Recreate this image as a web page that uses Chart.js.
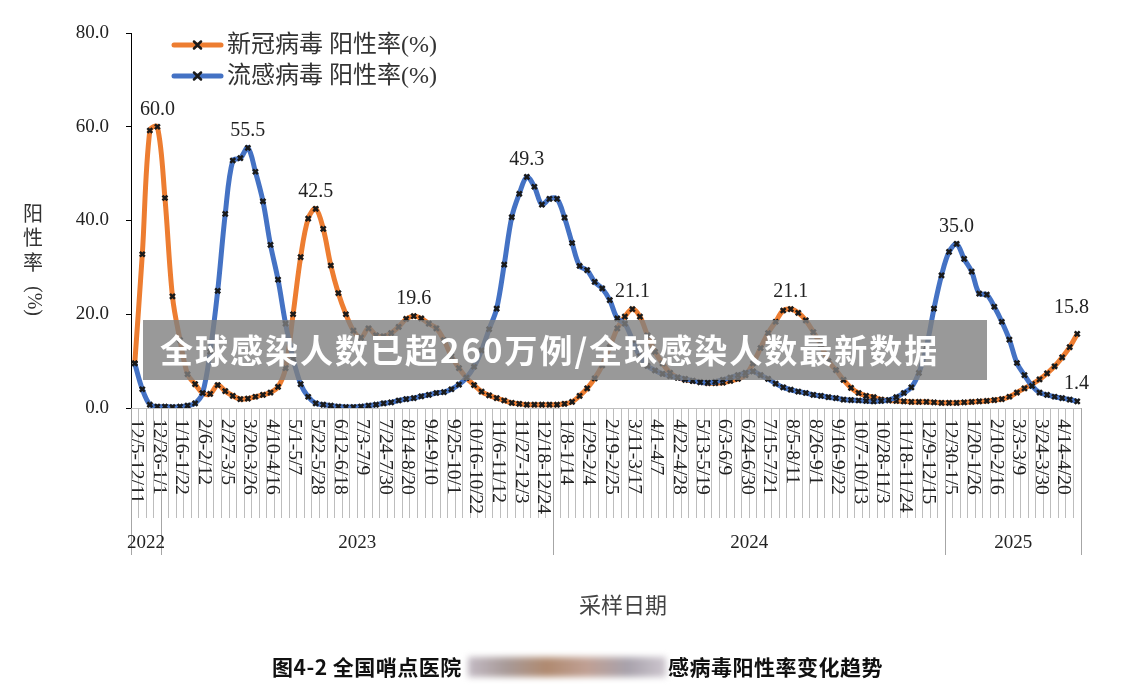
<!DOCTYPE html>
<html>
<head>
<meta charset="utf-8">
<script src="https://cdn.jsdelivr.net/npm/chart.js@4.4.1/dist/chart.umd.min.js"></script>
<style>
  html, body { margin: 0; padding: 0; background: #fff; }
  #chart { display: block; }
</style>
</head>
<body>
<canvas id="chart" width="1132" height="700"></canvas>
<script>
// weekly sampling periods, one label every third week
var tickLabels = [
    "12/5-12/11", "12/26-1/1", "1/16-1/22", "2/6-2/12", "2/27-3/5", "3/20-3/26",
    "4/10-4/16", "5/1-5/7", "5/22-5/28", "6/12-6/18", "7/3-7/9", "7/24-7/30",
    "8/14-8/20", "9/4-9/10", "9/25-10/1", "10/16-10/22", "11/6-11/12", "11/27-12/3",
    "12/18-12/24", "1/8-1/14", "1/29-2/4", "2/19-2/25", "3/11-3/17", "4/1-4/7",
    "4/22-4/28", "5/13-5/19", "6/3-6/9", "6/24-6/30", "7/15-7/21", "8/5-8/11",
    "8/26-9/1", "9/16-9/22", "10/7-10/13", "10/28-11/3", "11/18-11/24", "12/9-12/15",
    "12/30-1/5", "1/20-1/26", "2/10-2/16", "3/3-3/9", "3/24-3/30", "4/14-4/20"
];

// year groups under the axis: name and index of first week
var years = ["2022", "2023", "2024", "2025"];
var yearStarts = [0, 4, 56, 108];

// 新冠病毒 阳性率(%)
var covidRate = [
    9.5, 32.8, 59.2, 60.0, 44.8, 23.8, 14.5, 7.2, 5.1, 3.2,
    3.0, 4.9, 3.6, 2.6, 1.9, 2.0, 2.4, 2.8, 3.3, 4.5,
    8.5, 20.0, 32.2, 40.4, 42.5, 38.2, 30.4, 24.5, 20.0, 16.5,
    15.0, 17.0, 15.5, 15.3, 16.0, 17.3, 19.0, 19.6, 19.1, 18.0,
    17.0, 14.5, 11.0, 8.5, 6.4, 4.9, 3.5, 2.7, 2.1, 1.6,
    1.1, 0.9, 0.7, 0.7, 0.7, 0.7, 0.7, 0.9, 1.3, 2.6,
    4.2, 6.3, 9.1, 13.0, 17.0, 19.5, 21.1, 19.5, 15.5, 12.0,
    9.5, 7.5, 6.5, 6.0, 5.8, 5.5, 5.3, 5.3, 5.4, 5.8,
    6.2, 7.0, 9.5, 12.8, 16.0, 18.4, 20.8, 21.1, 20.3, 18.7,
    16.2, 13.5, 10.0, 8.1, 6.0, 4.3, 3.2, 2.6, 2.3, 1.8,
    1.6, 1.5, 1.4, 1.3, 1.3, 1.3, 1.2, 1.1, 1.1, 1.1,
    1.2, 1.3, 1.4, 1.5, 1.7, 1.9, 2.4, 3.3, 4.2, 5.1,
    6.1, 7.4, 8.9, 10.8, 13.0, 15.8
];

// 流感病毒 阳性率(%)
var fluRate = [
    9.5, 4.0, 0.7, 0.3, 0.3, 0.2, 0.3, 0.5, 1.0, 3.2,
    12.0, 25.0, 41.4, 52.8, 53.3, 55.5, 50.4, 44.1, 34.8, 27.4,
    18.0, 10.5, 5.1, 2.4, 1.0, 0.7, 0.5, 0.3, 0.2, 0.2,
    0.3, 0.5, 0.7, 1.0, 1.2, 1.6, 1.9, 2.1, 2.5, 2.8,
    3.2, 3.4, 4.0, 5.0, 6.5, 8.8, 12.3, 16.8, 21.2, 30.6,
    40.7, 45.7, 49.3, 47.2, 43.4, 44.6, 44.6, 40.6, 35.2, 30.3,
    29.4, 26.9, 25.5, 23.0, 19.1, 18.0, 14.5, 11.0, 9.0, 8.0,
    7.3, 6.8, 6.5, 6.2, 5.8, 5.5, 5.4, 5.6, 6.0, 6.5,
    7.0, 7.5, 7.8, 7.0, 6.2, 5.2, 4.4, 3.9, 3.5, 3.2,
    2.8, 2.6, 2.3, 2.1, 1.8, 1.7, 1.6, 1.5, 1.4, 1.5,
    1.7, 2.3, 3.2, 4.4, 7.5, 13.0, 21.2, 28.3, 33.3, 35.0,
    31.8, 29.1, 24.4, 24.2, 21.6, 18.4, 14.6, 9.6, 7.0, 4.7,
    3.3, 2.8, 2.4, 2.1, 1.8, 1.4
];

// weeks whose values are printed above the curve
var covidPeaks = [3, 24, 37, 66, 87, 125];
var fluPeaks = [15, 52, 109, 125];

var yTicks = [0, 20, 40, 60, 80];

var ORANGE = "#ED7D31";
var BLUE = "#4472C4";
var SERIF = "'Liberation Serif', 'Noto Sans CJK SC', serif";
var CJK = "'Noto Sans CJK SC', sans-serif";

// one category per week, text only every third week
var weeks = covidRate.map(function (v, i) {
    return i % 3 === 0 && tickLabels[i / 3] ? tickLabels[i / 3] : "";
});

function drawCross(ctx, x, y, r) {
    ctx.save();
    ctx.strokeStyle = "#1a1a1a";
    ctx.lineWidth = 2.5;
    ctx.beginPath();
    ctx.moveTo(x - r, y - r); ctx.lineTo(x + r, y + r);
    ctx.moveTo(x + r, y - r); ctx.lineTo(x - r, y + r);
    ctx.stroke();
    ctx.restore();
}

// everything Excel draws around the plot: rotated week labels, year groups,
// value labels, legend, titles, caption and the overlay banner
var decorPlugin = {
    id: "decor",
    afterDraw: function (chart) {
        var ctx = chart.ctx;
        var xs = chart.scales.x;
        var ys = chart.scales.y;
        var area = chart.chartArea;
        var step = xs.getPixelForValue(1) - xs.getPixelForValue(0);

        ctx.save();

        // week labels, rotated clockwise
        ctx.fillStyle = "#222";
        ctx.font = "18px " + SERIF;
        ctx.textAlign = "left";
        ctx.textBaseline = "middle";
        weeks.forEach(function (lab, i) {
            if (!lab) return;
            ctx.save();
            ctx.translate(xs.getPixelForValue(i) + 1, area.bottom + 11);
            ctx.rotate(Math.PI / 2);
            ctx.scale(1.08, 1);
            ctx.fillText(lab, 0, 0);
            ctx.restore();
        });

        // year separators and names
        var bounds = yearStarts.concat([weeks.length]).map(function (k) {
            return xs.getPixelForValue(k) - step / 2;
        });
        ctx.strokeStyle = "#a6a6a6";
        ctx.lineWidth = 1;
        bounds.forEach(function (bx) {
            ctx.beginPath();
            ctx.moveTo(Math.round(bx) + 0.5, area.bottom);
            ctx.lineTo(Math.round(bx) + 0.5, area.bottom + 147);
            ctx.stroke();
        });
        ctx.fillStyle = "#222";
        ctx.font = "19px " + SERIF;
        ctx.textAlign = "center";
        ctx.textBaseline = "middle";
        years.forEach(function (y, i) {
            ctx.fillText(y, (bounds[i] + bounds[i + 1]) / 2, area.bottom + 135);
        });

        // value labels
        ctx.font = "20px " + SERIF;
        ctx.textBaseline = "alphabetic";
        function label(series, idx, extra) {
            var px = xs.getPixelForValue(idx);
            var py = ys.getPixelForValue(series[idx]);
            var txt = series[idx].toFixed(1);
            var w = ctx.measureText(txt).width;
            var cx = Math.min(px, 1089 - w / 2);
            ctx.fillText(txt, cx, py - 12 - (extra || 0));
        }
        covidPeaks.forEach(function (i) {
            label(covidRate, i, i === covidRate.length - 1 ? 9 : 0);
        });
        fluPeaks.forEach(function (i) { label(fluRate, i, 0); });

        // legend
        [[ORANGE, "新冠病毒 阳性率(%)", 45], [BLUE, "流感病毒 阳性率(%)", 76]].forEach(function (it) {
            ctx.strokeStyle = it[0];
            ctx.lineWidth = 5;
            ctx.lineCap = "round";
            ctx.beginPath();
            ctx.moveTo(174, it[2]);
            ctx.lineTo(221, it[2]);
            ctx.stroke();
            drawCross(ctx, 197.5, it[2], 3.5);
            ctx.fillStyle = "#333";
            ctx.font = "24px " + SERIF;
            ctx.textAlign = "left";
            ctx.textBaseline = "middle";
            ctx.fillText(it[1], 227, it[2] + 1);
        });

        // y title, stacked characters
        ctx.fillStyle = "#333";
        ctx.font = "20px " + CJK;
        ctx.textAlign = "center";
        ctx.textBaseline = "middle";
        ["阳", "性", "率"].forEach(function (c, i) {
            ctx.fillText(c, 33, 213 + i * 24.5);
        });
        ctx.save();
        ctx.translate(33, 301);
        ctx.rotate(Math.PI / 2);
        ctx.font = "20px " + SERIF;
        ctx.fillText("(%)", 0, 0);
        ctx.restore();

        // x title
        ctx.fillStyle = "#444";
        ctx.font = "22px " + CJK;
        ctx.fillText("采样日期", 623, 605);

        // caption with the blurred middle part
        ctx.fillStyle = "#111";
        ctx.font = "bold 21px " + CJK;
        ctx.letterSpacing = "0.5px";
        ctx.textAlign = "left";
        ctx.fillText("图4-2 全国哨点医院", 272, 667);
        ctx.save();
        ctx.filter = "blur(3px)";
        var g = ctx.createLinearGradient(466, 0, 668, 0);
        g.addColorStop(0, "#c4bcc6");
        g.addColorStop(0.2, "#a89a98");
        g.addColorStop(0.4, "#b08a70");
        g.addColorStop(0.6, "#c0a094");
        g.addColorStop(0.8, "#a8a2ac");
        g.addColorStop(1, "#cfc8d0");
        ctx.fillStyle = g;
        ctx.fillRect(468, 657, 198, 20);
        ctx.restore();
        ctx.fillStyle = "#111";
        ctx.fillText("感病毒阳性率变化趋势", 668, 667);
        ctx.letterSpacing = "0px";

        // banner laid over the picture
        ctx.fillStyle = "rgba(128,128,128,0.8)";
        ctx.fillRect(143, 320, 844, 60);
        ctx.fillStyle = "#fff";
        ctx.font = "bold 33px " + CJK;
        ctx.letterSpacing = "2px";
        ctx.textBaseline = "middle";
        ctx.fillText("全球感染人数已超260万例/全球感染人数最新数据", 160, 350);
        ctx.letterSpacing = "0px";

        ctx.restore();
    }
};

new Chart(document.getElementById("chart"), {
    type: "line",
    data: {
        labels: weeks,
        datasets: [
            {
                label: "新冠病毒 阳性率(%)",
                data: covidRate,
                borderColor: ORANGE,
                borderWidth: 5,
                tension: 0.35,
                pointStyle: "crossRot",
                pointRadius: 3.5,
                pointBorderWidth: 2.5,
                pointBorderColor: "#1a1a1a",
                order: 2
            },
            {
                label: "流感病毒 阳性率(%)",
                data: fluRate,
                borderColor: BLUE,
                borderWidth: 5,
                tension: 0.35,
                pointStyle: "crossRot",
                pointRadius: 3.5,
                pointBorderWidth: 2.5,
                pointBorderColor: "#1a1a1a",
                order: 1
            }
        ]
    },
    options: {
        responsive: false,
        animation: false,
        devicePixelRatio: 1,
        layout: { padding: { left: 0, right: 51, top: 33, bottom: 0 } },
        plugins: {
            legend: { display: false },
            tooltip: { enabled: false }
        },
        scales: {
            x: {
                type: "category",
                offset: true,
                afterFit: function (s) { s.height = 292; },
                border: { color: "#bfbfbf", width: 1 },
                grid: {
                    offset: true,
                    drawOnChartArea: false,
                    tickLength: 110,
                    color: "#bdbdbd"
                },
                ticks: { display: false, autoSkip: false }
            },
            y: {
                min: 0,
                max: 80,
                afterFit: function (s) { s.width = 131; },
                afterBuildTicks: function (s) {
                    s.ticks = yTicks.map(function (v) { return { value: v }; });
                },
                border: { color: "#000", width: 1 },
                grid: { drawOnChartArea: false, tickLength: 5, color: "#000" },
                ticks: {
                    padding: 17,
                    color: "#222",
                    font: { family: SERIF, size: 19 },
                    callback: function (v) { return Number(v).toFixed(1); }
                }
            }
        }
    },
    plugins: [decorPlugin]
});
</script>
</body>
</html>
